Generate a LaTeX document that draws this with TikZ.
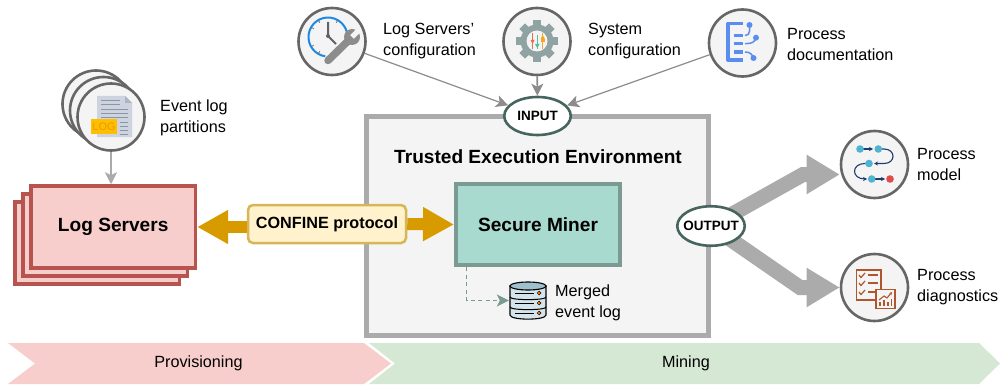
\documentclass[tikz,border=0pt]{standalone}
\usepackage{fontspec}
\setmainfont{Liberation Sans}
\usetikzlibrary{arrows.meta,calc,shapes.geometric}
\definecolor{cgrey}{HTML}{666666}
\definecolor{cpanel}{HTML}{F4F4F4}
\definecolor{teeline}{HTML}{ABABAB}
\definecolor{thingrey}{HTML}{8C8C8C}
\definecolor{redl}{HTML}{B85450}
\definecolor{redf}{HTML}{F8CECC}
\definecolor{goldl}{HTML}{D79B00}
\definecolor{confl}{HTML}{D6B656}
\definecolor{conff}{HTML}{FFF2CC}
\definecolor{minef}{HTML}{A8DAD0}
\definecolor{minel}{HTML}{7A9A92}
\definecolor{elll}{HTML}{45655E}
\definecolor{greenf}{HTML}{D5E8D4}
\definecolor{docb}{HTML}{5B8DEF}
\definecolor{rust}{HTML}{B0562F}
\definecolor{tealc}{HTML}{4FB3D1}
\definecolor{navy}{HTML}{1F3A6B}
\definecolor{gearc}{HTML}{8FA3A3}
\definecolor{paper}{HTML}{CDD3DF}
\definecolor{paperl}{HTML}{8B95A5}
\definecolor{clockb}{HTML}{1E88E5}
\definecolor{handc}{HTML}{5F6368}
\definecolor{logbg}{HTML}{FFBF00}
\definecolor{logtx}{HTML}{E89B00}
\definecolor{dbbody}{HTML}{D5E3EA}
\definecolor{dbtop}{HTML}{9FC0CC}
\definecolor{sredc}{HTML}{EE6A50}
\definecolor{sgreenc}{HTML}{4CC2A0}
\definecolor{sorangec}{HTML}{F5A623}
\definecolor{endred}{HTML}{E04B4B}
\tikzset{
  x=1pt,y=1pt,
  lbl/.style={anchor=west,align=left,inner sep=0pt,font=\fontsize{16.2}{20.8}\selectfont},
  iconc/.style={circle,draw=cgrey,line width=2.6pt,fill=cpanel,minimum size=67pt,inner sep=0pt},
  srv/.style={rectangle,draw=redl,line width=3.5pt,fill=redf,minimum width=164.5pt,minimum height=82pt,inner sep=0pt},
  ports/.style={ellipse,draw=elll,line width=2.6pt,fill=white,inner sep=0pt,font=\fontsize{13.5}{16}\bfseries},
  thinarrow/.style={draw=thingrey,line width=1.2pt,-{Stealth[length=12pt,width=12pt,inset=3pt]}},
  goldarrow/.style={draw=goldl,line width=12pt,-{Triangle[length=31pt,width=32pt]}},
  bigarrow/.style={draw=teeline,line width=15pt,line join=miter,-{Triangle[length=33pt,width=37pt]}}
}
\begin{document}
\begin{tikzpicture}
\useasboundingbox (0,0) rectangle (1000,-385);
\fill[white] (0,0) rectangle (1000,-385);
% bottom chevrons
\fill[redf] (8,-343) -- (364,-343) -- (391,-363.5) -- (364,-384) -- (8,-384) -- (35,-363.5) -- cycle;
\fill[greenf] (369,-343) -- (979,-343) -- (1000,-363.5) -- (979,-384) -- (369,-384) -- (395,-363.5) -- cycle;
\node[font=\fontsize{16.2}{20}\selectfont] (prov) at (198.5,-363) {Provisioning};
\node[font=\fontsize{16.2}{20}\selectfont] (mining) at (686,-363) {Mining};
% TEE
\node[rectangle,draw=teeline,line width=5pt,fill=cpanel,minimum width=341.5pt,minimum height=218.5pt,inner sep=0pt] (tee) at (537.3,-226.2) {};
\node[font=\fontsize{19.1}{22}\bfseries] (teetxt) at (538,-156.5) {Trusted Execution Environment};
% servers
\node[srv] (ls3) at (97.2,-243) {};
\node[srv] (ls2) at (105.2,-235) {};
\node[srv,font=\fontsize{19.1}{22}\bfseries] (ls) at (113.2,-227) {Log Servers\hspace{3pt}};
% secure miner
\node[rectangle,draw=minel,line width=4pt,fill=minef,minimum width=164pt,minimum height=81pt,inner sep=0pt,font=\fontsize{19.1}{22}\bfseries] (secure) at (538,-224.5) {Secure Miner\hspace{2pt}};
% confine
\node[rectangle,rounded corners=5pt,draw=confl,line width=2.5pt,fill=conff,minimum width=158pt,minimum height=38pt,inner sep=0pt,font=\fontsize{16.2}{20}\bfseries] (confine) at (327,-224) {CONFINE protocol};
\draw[goldarrow] (confine.west |- ls.east) -- (ls.east);
\draw[goldarrow] (confine.east) -- (secure.west);
% icon nodes
\node[iconc] (lc) at (332,-41.5) {};
\node[iconc] (sc) at (537,-41.5) {};
\node[iconc] (pd) at (742.5,-43) {};
\node[iconc] (ev1) at (96,-104) {};
\node[iconc] (ev2) at (103.5,-110.5) {};
\node[iconc] (ev3) at (111,-117) {};
\coordinate (upbend) at (803,-174.5);
\coordinate (lowbend) at (800,-287.5);
\coordinate (outc) at (711,-226);
\node[iconc] (pm) at (874.5,-164.5) {};
\node[iconc] (pdg) at (874.5,-287.5) {};
\draw[bigarrow] (outc) -- (upbend) -- (upbend -| pm.west);
\draw[bigarrow] (outc) -- (lowbend) -- (lowbend -| pdg.west);
% input / output
\node[ports,minimum width=66.5pt,minimum height=38pt] (input) at (537.5,-116) {INPUT};
\node[ports,minimum width=67.5pt,minimum height=39.5pt,inner xsep=-12pt] (output) at (outc) {OUTPUT};
% thin connectors
\draw[thinarrow] (lc) -- (input);
\draw[thinarrow,line width=1.6pt] (sc) -- (input);
\draw[thinarrow] (pd) -- (input);
\draw[thinarrow,draw=teeline,line width=1.6pt] (ev3.south) -- (ev3.south |- ls.north);
% database
\node[inner sep=0pt,minimum width=37pt,minimum height=37pt] (db) at (527.5,-300.5) {};
\coordinate (minetap) at ($(secure.south west)+(12.5,0)$);
\draw[draw=minel,line width=1.2pt,dash pattern=on 4pt off 3.5pt,-{Stealth[length=12pt,width=12pt,inset=3pt]}] (minetap) |- (db.west);
\filldraw[fill=dbbody,draw=black,line width=1.1pt] (510,-286) -- (510,-315) .. controls (510,-320.5) and (546,-320.5) .. (546,-315) -- (546,-286) -- cycle;
\filldraw[fill=dbtop,draw=black,line width=1.1pt] (528,-286) ellipse (18 and 4);
\draw[black,line width=1pt] (510,-297) .. controls (510,-300.5) and (546,-300.5) .. (546,-297);
\draw[black,line width=1pt] (510,-307) .. controls (510,-310.5) and (546,-310.5) .. (546,-307);
\foreach \yy in {293,303,313}{
  \draw[black,line width=.9pt] (515,-\yy) -- (534,-\yy);
  \filldraw[fill=orange,draw=black,line width=.5pt] (539,-\yy) circle (1.9);
}
% labels
\node[lbl] (l1) at (383,-41) {Log Servers’\\configuration};
\node[lbl] (l2) at (588,-41) {System\\configuration};
\node[lbl] (l3) at (787,-44.5) {Process\\documentation};
\node[lbl] (l4) at (160,-118) {Event log\\partitions};
\node[lbl] (l5) at (917,-164.5) {Process\\model};
\node[lbl] (l6) at (917,-287.5) {Process\\diagnostics};
\node[lbl] (l7) at (555,-302.5) {Merged\\event log};
% clock + wrench icon
\draw[line width=2pt,draw=clockb] (328,-37) ++(-8:19.5) arc (-8:262:19.5);
\foreach \a in {60,120,150,210,240,300}{\draw[cgrey,line width=.7pt] (328,-37) ++(\a:16.5) -- ++(\a:2.5);}
\draw[draw=handc,line width=2pt,line join=round] (328,-22) -- (328,-36) -- (336,-44);
\fill[handc] (328,-36) circle (2);
\draw[draw=thingrey,line width=7.5pt,line cap=round] (328,-60.5) -- (348,-41);
\fill[thingrey] (352,-37) circle (8);
\draw[cpanel,line width=5pt] (352,-37) -- (360,-29);
% gear icon
\foreach \a in {0,45,...,315}{
  \fill[gearc,rotate around={\a:(537,-41)}] (533,-41) rectangle (541,-20);
}
\fill[gearc] (537,-41) circle (16.5);
\fill[cpanel] (537,-41) circle (10.5);
\draw[draw=sredc,line width=1.2pt] (532.5,-33) -- (532.5,-49);
\fill[sredc] (530.5,-40) -- (534.5,-40) -- (532.5,-44) -- cycle;
\draw[draw=sgreenc,line width=1.2pt] (537.3,-35) -- (537.3,-49);
\fill[sgreenc] (535,-44) -- (539.6,-44) -- (537.3,-48) -- cycle;
\draw[draw=sorangec,line width=1.2pt] (542.7,-33) -- (542.7,-49);
\fill[sorangec] (540.5,-39) -- (544.9,-39) -- (542.7,-35) -- cycle;
\fill[sorangec] (540.5,-39) rectangle (544.9,-42);
% doc icon
\draw[docb,line width=3.5pt,line join=round] (742.7,-23.5) -- (727.8,-23.5) -- (727.8,-60) -- (742.7,-60);
\foreach \yy in {35.7,43.7,52}{\fill[docb] (734,-\yy+1.6) rectangle (742.5,-\yy-1.6);}
\fill[docb] (749.5,-25) circle (3);
\fill[docb] (756,-37.7) circle (3);
\fill[docb] (753.5,-58) circle (3);
\draw[docb,line width=1.5pt] (749.5,-25) -- (749.5,-31) .. controls (749.5,-34) and (748,-35.5) .. (745,-35.5);
\draw[docb,line width=1.5pt] (756,-37.7) .. controls (755,-42) and (752,-43.7) .. (745,-43.7);
\draw[docb,line width=1.5pt] (753.5,-58) .. controls (752,-54) and (750,-52) .. (745,-52);
% log file icon
\fill[paper] (97,-96) -- (125,-96) -- (132,-103) -- (132,-137) -- (97,-137) -- cycle;
\fill[paperl!70] (125,-96) -- (132,-103) -- (125,-103) -- cycle;
\foreach \yy/\xe in {100.7/120,105/120,109.5/128,113.5/128,117.5/128}{\draw[paperl,line width=1pt] (101,-\yy) -- (\xe,-\yy);}
\foreach \yy in {122,126,130,134}{\draw[paperl,line width=1pt] (120,-\yy) -- (128,-\yy);}
\fill[logbg] (91,-119) rectangle (117,-133.5);
\node[inner sep=0pt,text=logtx,font=\fontsize{11}{12}\selectfont] (logt) at (104,-126.5) {LOG};
% process model icon
\draw[navy,line width=1.1pt,-{Stealth[length=4pt,width=4pt]}] (860,-149) -- (873,-149);
\draw[navy,line width=1.1pt,-{Stealth[length=4pt,width=4pt]}] (878,-149) -- (884,-149) .. controls (896,-149) and (896,-163.5) .. (884,-163.5) -- (874,-163.5);
\draw[navy,line width=1.1pt,-{Stealth[length=4pt,width=4pt]}] (869,-163.5) -- (865,-163.5) .. controls (851,-163.5) and (851,-179) .. (865,-179) -- (867,-179);
\draw[navy,line width=1.1pt,-{Stealth[length=4pt,width=4pt]}] (871.7,-179) -- (885,-179);
\fill[tealc] (860,-149) circle (3.8);
\fill[tealc] (878.3,-149) circle (3.8);
\fill[tealc] (869,-163.5) circle (3.8);
\fill[tealc] (871.7,-179) circle (3.8);
\fill[endred] (890,-179) circle (3.8);
% diagnostics icon
\draw[rust,line width=1.2pt] (856.5,-270) rectangle (881,-300);
\foreach \yy in {275,283,292}{
  \draw[rust,line width=1.2pt] (859,-\yy) -- (861,-\yy-2.5) -- (865,-\yy+2);
  \draw[rust,line width=1.2pt] (868,-\yy) -- (878,-\yy);
}
\filldraw[fill=cpanel,draw=rust,line width=1.2pt] (876,-289.5) rectangle (895,-308.5);
\draw[rust,line width=1.1pt,-{Stealth[length=3pt,width=3pt]}] (879,-300) -- (884,-296) -- (887,-298) -- (892,-292);
\foreach \xx/\hh in {880/302,884/300,888/302,891.5/299}{\draw[rust,line width=1.6pt] (\xx,-\hh) -- (\xx,-306);}
\end{tikzpicture}
\end{document}
